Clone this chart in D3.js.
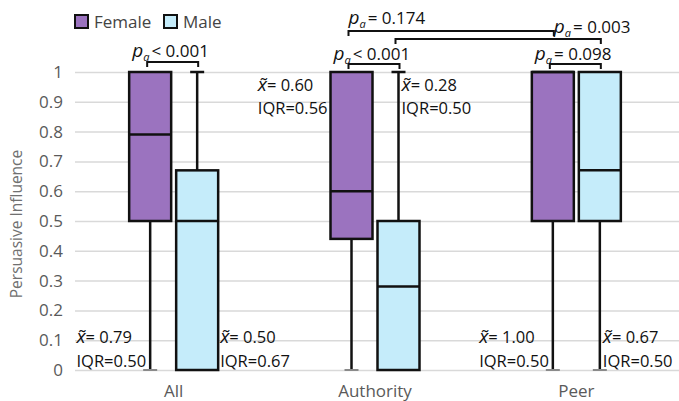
<!DOCTYPE html>
<html>
<head>
<meta charset="utf-8">
<script src="https://cdn.jsdelivr.net/npm/d3@7"></script>
<style>
  body { margin: 0; background: #fff; }
  text { font-family: "Open Sans", Lato, sans-serif; }
</style>
</head>
<body>
<svg width="679" height="401"></svg>
<script>
// chart values
let categories = ["All", "Authority", "Peer"];
let genders = ["Female", "Male"];
let genderColors = ["#9b73bf", "#c5ecfa"];

let femaleMin = [0, 0, 0];
let femaleQ1 = [0.5, 0.44, 0.5];
let femaleMedian = [0.79, 0.6, 1.0];
let femaleQ3 = [1, 1, 1];
let femaleMax = [1, 1, 1];

let maleMin = [0, 0, 0];
let maleQ1 = [0, 0, 0.5];
let maleMedian = [0.5, 0.28, 0.67];
let maleQ3 = [0.67, 0.5, 1];
let maleMax = [1, 1, 1];

let yTicks = [0, 0.1, 0.2, 0.3, 0.4, 0.5, 0.6, 0.7, 0.8, 0.9, 1];
let yTickLabels = ["0", "0.1", "0.2", "0.3", "0.4", "0.5", "0.6", "0.7", "0.8", "0.9", "1"];

// pairwise tests: [category, gender] -> [category, gender]
let pFrom = [["All", "Female"], ["Authority", "Female"], ["Authority", "Female"], ["Authority", "Male"], ["Peer", "Female"]];
let pTo = [["All", "Male"], ["Authority", "Male"], ["Peer", "Female"], ["Peer", "Male"], ["Peer", "Male"]];
let pText = ["< 0.001", "< 0.001", "= 0.174", "= 0.003", "= 0.098"];

// layout for the annotations (pixels)
let pBracketY = [62, 64, 31, 39, 64];
let pTextY = [57, 60, 24, 33, 60];
let pTextAt = ["x1", "x1", "x1", "x2", "x1"];
let pTextDx = [-15, -15, 0, -46, -15];
let statPlace = { All: "bottom", Authority: "top", Peer: "bottom" };

let boxes = categories.flatMap((c, i) => [
  { cat: c, gender: "Female", min: femaleMin[i], q1: femaleQ1[i], med: femaleMedian[i], q3: femaleQ3[i], max: femaleMax[i] },
  { cat: c, gender: "Male", min: maleMin[i], q1: maleQ1[i], med: maleMedian[i], q3: maleQ3[i], max: maleMax[i] },
]);

let svg = d3.select("svg");

let x = d3.scaleBand().domain(categories).range([73, 677]);
let xSub = d3.scaleBand().domain(genders).range([-44.5, 44.5]).paddingInner(5 / 47);
let y = d3.scaleLinear().domain([0, 1]).range([370, 72]);
let color = d3.scaleOrdinal().domain(genders).range(genderColors);

let cx = (cat, g) => x(cat) + x.bandwidth() / 2 + xSub(g) + xSub.bandwidth() / 2;

// gridlines
svg.append("g")
  .attr("transform", "translate(75,0)")
  .call(d3.axisLeft(y).tickValues(yTicks).tickSize(-(679 - 75)).tickFormat(""))
  .call((g) => g.select(".domain").remove())
  .call((g) => g.selectAll("line").attr("stroke", "#d9d9d9").attr("stroke-width", 1.5));

// y axis labels
svg.append("g")
  .attr("transform", "translate(63,0)")
  .call(d3.axisLeft(y).tickValues(yTicks).tickSize(0).tickPadding(0)
    .tickFormat((d, i) => yTickLabels[i]))
  .call((g) => g.select(".domain").remove())
  .call((g) => g.selectAll("text")
    .attr("fill", "#5a5a5a")
    .style("font-size", "17px")
    .style("font-family", "'Open Sans', sans-serif"));

svg.append("text")
  .attr("transform", "translate(22,224) rotate(-90)")
  .attr("text-anchor", "middle")
  .attr("fill", "#707070")
  .style("font-size", "15.5px")
  .text("Persuasive Influence");

// category labels
svg.append("g")
  .attr("transform", "translate(0,370)")
  .call(d3.axisBottom(x).tickSize(0).tickPadding(15))
  .call((g) => g.select(".domain").remove())
  .call((g) => g.selectAll("text")
    .attr("fill", "#5a5a5a")
    .style("font-size", "17px")
    .style("font-family", "'Open Sans', sans-serif"));

// boxes
let boxG = svg.selectAll(".box")
  .data(boxes)
  .enter()
  .append("g")
  .attr("class", "box");

// lower whisker
boxG.filter((d) => d.min < d.q1)
  .append("line")
  .attr("x1", (d) => cx(d.cat, d.gender))
  .attr("x2", (d) => cx(d.cat, d.gender))
  .attr("y1", (d) => y(d.q1))
  .attr("y2", (d) => y(d.min))
  .attr("stroke", "#111")
  .attr("stroke-width", 2.5);

boxG.filter((d) => d.min < d.q1)
  .append("line")
  .attr("x1", (d) => cx(d.cat, d.gender) - 7)
  .attr("x2", (d) => cx(d.cat, d.gender) + 7)
  .attr("y1", (d) => y(d.min))
  .attr("y2", (d) => y(d.min))
  .attr("stroke", "#8a8a8a")
  .attr("stroke-width", 2);

// upper whisker
boxG.filter((d) => d.max > d.q3)
  .append("line")
  .attr("x1", (d) => cx(d.cat, d.gender))
  .attr("x2", (d) => cx(d.cat, d.gender))
  .attr("y1", (d) => y(d.q3))
  .attr("y2", (d) => y(d.max))
  .attr("stroke", "#111")
  .attr("stroke-width", 2.5);

boxG.filter((d) => d.max > d.q3)
  .append("line")
  .attr("x1", (d) => cx(d.cat, d.gender) - 7)
  .attr("x2", (d) => cx(d.cat, d.gender) + 7)
  .attr("y1", (d) => y(d.max))
  .attr("y2", (d) => y(d.max))
  .attr("stroke", "#111")
  .attr("stroke-width", 2.5);

boxG.append("rect")
  .attr("x", (d) => x(d.cat) + x.bandwidth() / 2 + xSub(d.gender))
  .attr("width", xSub.bandwidth())
  .attr("y", (d) => y(d.q3))
  .attr("height", (d) => y(d.q1) - y(d.q3))
  .attr("fill", (d) => color(d.gender))
  .attr("stroke", "#111")
  .attr("stroke-width", 2.5);

boxG.append("line")
  .attr("x1", (d) => x(d.cat) + x.bandwidth() / 2 + xSub(d.gender))
  .attr("x2", (d) => x(d.cat) + x.bandwidth() / 2 + xSub(d.gender) + xSub.bandwidth())
  .attr("y1", (d) => y(d.med))
  .attr("y2", (d) => y(d.med))
  .attr("stroke", "#111")
  .attr("stroke-width", 2.5);

// median / IQR labels next to each box
boxes.forEach((d) => {
  let place = statPlace[d.cat];
  let lo = place === "bottom" ? 0 : 0.84;
  let hi = place === "bottom" ? 0.12 : 1;
  let overlap = d.q1 < hi && d.q3 > lo;
  let left = x(d.cat) + x.bandwidth() / 2 + xSub(d.gender);
  let right = left + xSub.bandwidth();
  let c = cx(d.cat, d.gender);
  let isLeft = d.gender === "Female";
  let ax = isLeft ? (overlap ? left - 3 : c - 4) : (overlap ? right + 2 : c + 3);
  let y1 = place === "bottom" ? y(0.09) : y(0.935);
  let y2 = place === "bottom" ? y(0.01) : y(0.86);

  let iqr = svg.append("text")
    .attr("x", ax)
    .attr("y", y2)
    .attr("text-anchor", isLeft ? "end" : "start")
    .attr("fill", "#111")
    .style("font-size", "16.5px")
    .text("IQR=" + (d.q3 - d.q1).toFixed(2));
  let startX = isLeft ? ax - iqr.node().getComputedTextLength() : ax;

  let med = svg.append("text")
    .attr("x", startX)
    .attr("y", y1)
    .attr("fill", "#111")
    .style("font-size", "16.5px");
  med.append("tspan").style("font-style", "italic").style("font-size", "19px").text("x\u0303");
  med.append("tspan").text("= " + d.med.toFixed(2));
});

// significance brackets
pText.forEach((t, i) => {
  let x1 = cx(pFrom[i][0], pFrom[i][1]);
  let x2 = cx(pTo[i][0], pTo[i][1]);
  let by = pBracketY[i];
  svg.append("path")
    .attr("d", `M${x1 - 3},${by + 5}V${by}H${x2 + 1}V${by + 5}`)
    .attr("fill", "none")
    .attr("stroke", "#111")
    .attr("stroke-width", 2);

  let tx = (pTextAt[i] === "x1" ? x1 - 3 : x2) + pTextDx[i];
  let label = svg.append("text")
    .attr("x", tx)
    .attr("y", pTextY[i])
    .attr("fill", "#111")
    .style("font-size", "17px");
  label.append("tspan").style("font-style", "italic").style("font-size", "19px").text("p");
  label.append("tspan").style("font-style", "italic").style("font-size", "11px").attr("dy", 4).text("a");
  label.append("tspan").attr("dy", -4).attr("dx", 2).text(t);
});

// legend
let legend = svg.selectAll(".legend")
  .data(genders)
  .enter()
  .append("g")
  .attr("class", "legend")
  .attr("transform", (d, i) => `translate(${[75, 164][i]},15)`);

legend.append("rect")
  .attr("width", 13)
  .attr("height", 13)
  .attr("fill", (d) => color(d))
  .attr("stroke", "#111")
  .attr("stroke-width", 2);

legend.append("text")
  .attr("x", 19)
  .attr("y", 13)
  .attr("fill", "#444")
  .style("font-size", "17px")
  .text((d) => d);
</script>
</body>
</html>
